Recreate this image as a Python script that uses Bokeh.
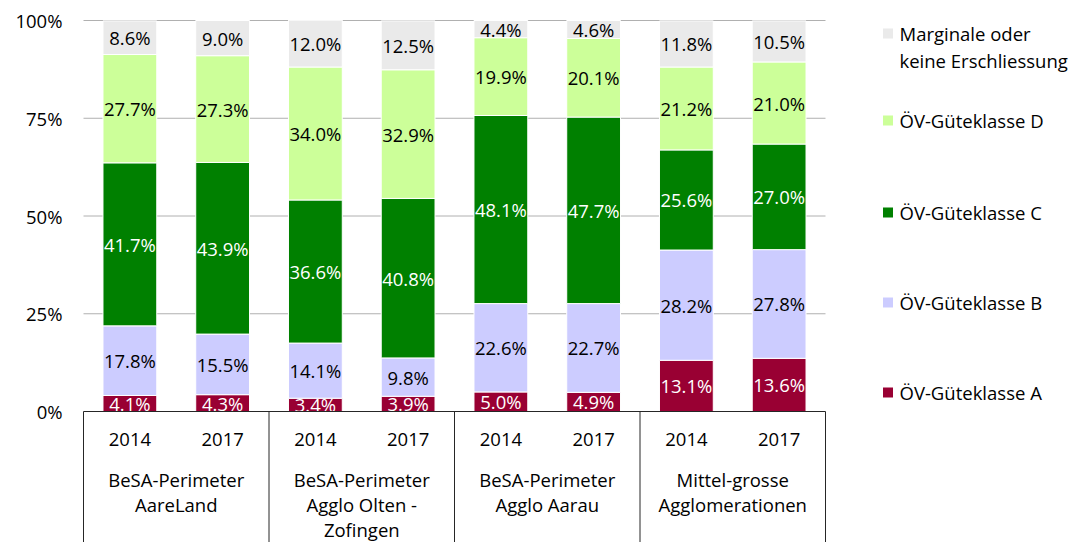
from bokeh.plotting import figure
from bokeh.models import ColumnDataSource, Range1d, FixedTicker
from bokeh.core.properties import value
from bokeh.embed import file_html
from bokeh.resources import INLINE

# ---------------- data ----------------
groups = ["BeSA-Perimeter\nAareLand",
          "BeSA-Perimeter\nAgglo Olten -\nZofingen",
          "BeSA-Perimeter\nAgglo Aarau",
          "Mittel-grosse\nAgglomerationen"]
years = ["2014", "2017"]

series_names = ["ÖV-Güteklasse A", "ÖV-Güteklasse B", "ÖV-Güteklasse C",
                "ÖV-Güteklasse D", "Marginale oder\nkeine Erschliessung"]
klasse_a = [4.1, 4.3, 3.4, 3.9, 5.0, 4.9, 13.1, 13.6]
klasse_b = [17.8, 15.5, 14.1, 9.8, 22.6, 22.7, 28.2, 27.8]
klasse_c = [41.7, 43.9, 36.6, 40.8, 48.1, 47.7, 25.6, 27.0]
klasse_d = [27.7, 27.3, 34.0, 32.9, 19.9, 20.1, 21.2, 21.0]
marginal = [8.6, 9.0, 12.0, 12.5, 4.4, 4.6, 11.8, 10.5]

y_ticks = [0, 25, 50, 75, 100]
y_tick_labels = ["0%", "25%", "50%", "75%", "100%"]

# ---------------- styles ----------------
colors = ["#990033", "#CCCCFF", "#008000", "#CCFF99", "#EAEAEA"]
label_colors = ["white", "black", "white", "black", "black"]
FONT = value("Open Sans")
FS = "18.5px"

series = [klasse_a, klasse_b, klasse_c, klasse_d, marginal]
n_bars = len(klasse_a)
xs = [i + 0.5 for i in range(n_bars)]

W, H = 1069, 542
FL, FT = 81, 12          # frame left / top in page px
X0 = 83                  # page px of x=0
Y0 = 411                 # page px of y=0
PX_X = 92.75             # px per bar slot
PX_Y = 3.91              # px per percent
x_start = -(X0 - FL) / PX_X
x_end = x_start + (W - FL) / PX_X
y_top = (Y0 - FT) / PX_Y
y_bot = y_top - (H - FT) / PX_Y

p = figure(width=W, height=H, output_backend="svg", toolbar_location=None,
           x_range=Range1d(x_start, x_end), y_range=Range1d(y_bot, y_top),
           x_axis_location=None, min_border_left=FL, min_border_right=0,
           min_border_top=FT, min_border_bottom=0)
p.outline_line_color = None
p.grid.visible = False
p.background_fill_color = "white"
p.border_fill_color = "white"

# y axis
ya = p.yaxis[0]
ya.ticker = FixedTicker(ticks=y_ticks)
ya.major_label_overrides = {t: l for t, l in zip(y_ticks, y_tick_labels)}
ya.axis_line_color = None
ya.major_tick_line_color = None
ya.minor_tick_line_color = None
ya.major_tick_out = 0
ya.major_tick_in = 0
ya.major_label_standoff = 19
ya.major_label_text_font = "Open Sans"
ya.major_label_text_font_size = FS
ya.major_label_text_color = "black"

# horizontal gridlines limited to bar area
grid_y = [t for t in y_ticks if t > 0]
p.segment(x0=[0] * len(grid_y), x1=[n_bars] * len(grid_y), y0=grid_y, y1=grid_y,
          line_color="#b0b0b0", line_width=1)

# stacked bars + labels
bottoms = [0.0] * n_bars
for k, vals in enumerate(series):
    tops = [b + v for b, v in zip(bottoms, vals)]
    src = ColumnDataSource(dict(x=xs, bottom=bottoms, top=tops,
                                mid=[(b + t) / 2 for b, t in zip(bottoms, tops)],
                                lab=[f"{v:.1f}%" for v in vals]))
    p.vbar(x="x", width=0.58, bottom="bottom", top="top", source=src,
           fill_color=colors[k], line_color="white", line_width=1)
    p.text(x="x", y="mid", text="lab", source=src, text_align="center",
           text_baseline="middle", text_font=FONT, text_font_size=FS,
           text_color=label_colors[k])
    bottoms = tops

# category box
box_x = [2 * g for g in range(len(groups) + 1)]
p.segment(x0=[0], x1=[n_bars], y0=[0], y1=[0], line_color="#262626", line_width=1)
p.segment(x0=box_x, x1=box_x, y0=[0] * len(box_x), y1=[y_bot] * len(box_x),
          line_color="#262626", line_width=1)

# year labels
p.text(x=xs, y=[-(439 - Y0) / PX_Y] * n_bars, text=[years[i % 2] for i in range(n_bars)],
       text_align="center", text_baseline="middle", text_font=FONT,
       text_font_size=FS, text_color="black")

# group labels (one row per line)
gx, gy, gt = [], [], []
for g, name in enumerate(groups):
    for j, line in enumerate(name.split("\n")):
        gx.append(2 * g + 1)
        gy.append(-(479 + 25 * j - Y0) / PX_Y)
        gt.append(line)
p.text(x=gx, y=gy, text=gt, text_align="center", text_baseline="middle",
       text_font=FONT, text_font_size=FS, text_color="black")

# legend (top to bottom)
leg_py = [33, 120, 212, 302, 392]
order = [4, 3, 2, 1, 0]
mx = (887.5 - X0) / PX_X
tx = (899 - X0) / PX_X
lx, ly, lt = [], [], []
for pos, k in zip(leg_py, order):
    p.scatter(x=[mx], y=[(Y0 - pos) / PX_Y], marker="square", size=10,
              fill_color=colors[k], line_color=None)
    for j, line in enumerate(series_names[k].split("\n")):
        lx.append(tx)
        ly.append((Y0 - pos - 27 * j) / PX_Y)
        lt.append(line)
p.text(x=lx, y=ly, text=lt, text_align="left", text_baseline="middle",
       text_font=FONT, text_font_size=FS, text_color="black")

open("out.html", "w").write(file_html(p, INLINE))
